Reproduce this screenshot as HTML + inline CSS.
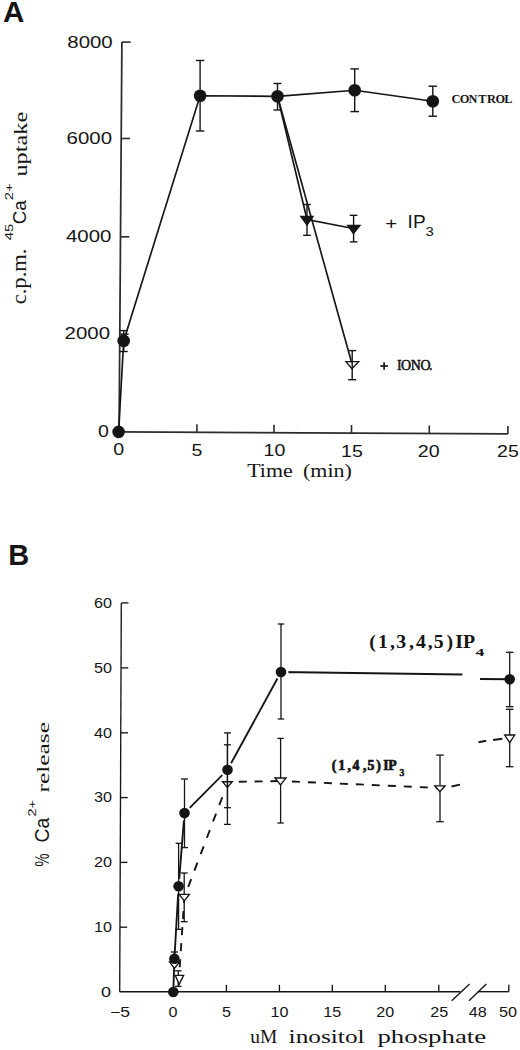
<!DOCTYPE html>
<html><head><meta charset="utf-8"><style>
html,body{margin:0;padding:0;background:#fff;}
svg{display:block;}
</style></head><body>
<svg width="520" height="1050" viewBox="0 0 520 1050">
<rect width="520" height="1050" fill="#fff"/>
<g stroke="#151515" fill="#151515" stroke-linecap="butt">
<text stroke="none" x="3.1" y="21.5" font-family="&quot;Liberation Sans&quot;, sans-serif" font-size="29.6" font-weight="bold" text-anchor="start" >A</text>
<line x1="121.90" y1="42.10" x2="119.10" y2="431.80" stroke-width="1.75" stroke="#2c2c2c"/>
<line x1="121.90" y1="42.10" x2="130.70" y2="42.10" stroke-width="1.6" stroke="#2c2c2c"/>
<line x1="121.21" y1="138.50" x2="130.01" y2="138.50" stroke-width="1.6" stroke="#2c2c2c"/>
<line x1="120.50" y1="236.80" x2="129.30" y2="236.80" stroke-width="1.6" stroke="#2c2c2c"/>
<line x1="119.80" y1="334.20" x2="128.60" y2="334.20" stroke-width="1.6" stroke="#2c2c2c"/>
<line x1="119.10" y1="431.80" x2="507.90" y2="433.90" stroke-width="1.75" stroke="#2c2c2c"/>
<line x1="196.90" y1="432.22" x2="196.90" y2="424.22" stroke-width="1.6" stroke="#2c2c2c"/>
<line x1="274.00" y1="432.64" x2="274.00" y2="424.64" stroke-width="1.6" stroke="#2c2c2c"/>
<line x1="351.50" y1="433.06" x2="351.50" y2="425.06" stroke-width="1.6" stroke="#2c2c2c"/>
<line x1="429.30" y1="433.48" x2="429.30" y2="425.48" stroke-width="1.6" stroke="#2c2c2c"/>
<line x1="507.90" y1="433.90" x2="507.90" y2="425.90" stroke-width="1.6" stroke="#2c2c2c"/>
<text stroke="none" x="112.7" y="47.8" font-family="&quot;Liberation Sans&quot;, sans-serif" font-size="17" font-weight="normal" text-anchor="end" textLength="45.4" lengthAdjust="spacingAndGlyphs" >8000</text>
<text stroke="none" x="112.0" y="143.75" font-family="&quot;Liberation Sans&quot;, sans-serif" font-size="17" font-weight="normal" text-anchor="end" textLength="45.4" lengthAdjust="spacingAndGlyphs" >6000</text>
<text stroke="none" x="111.4" y="242.05" font-family="&quot;Liberation Sans&quot;, sans-serif" font-size="17" font-weight="normal" text-anchor="end" textLength="45.4" lengthAdjust="spacingAndGlyphs" >4000</text>
<text stroke="none" x="110.0" y="338.75" font-family="&quot;Liberation Sans&quot;, sans-serif" font-size="17" font-weight="normal" text-anchor="end" textLength="45.4" lengthAdjust="spacingAndGlyphs" >2000</text>
<text stroke="none" x="109.0" y="436.95" font-family="&quot;Liberation Sans&quot;, sans-serif" font-size="17" font-weight="normal" text-anchor="end" textLength="10.9" lengthAdjust="spacingAndGlyphs" >0</text>
<text stroke="none" x="118.7" y="455.4" font-family="&quot;Liberation Sans&quot;, sans-serif" font-size="17" font-weight="normal" text-anchor="middle" textLength="10.9" lengthAdjust="spacingAndGlyphs" >0</text>
<text stroke="none" x="197.0" y="455.80257069408736" font-family="&quot;Liberation Sans&quot;, sans-serif" font-size="17" font-weight="normal" text-anchor="middle" textLength="10.9" lengthAdjust="spacingAndGlyphs" >5</text>
<text stroke="none" x="274.5" y="456.2010282776349" font-family="&quot;Liberation Sans&quot;, sans-serif" font-size="17" font-weight="normal" text-anchor="middle" textLength="21.8" lengthAdjust="spacingAndGlyphs" >10</text>
<text stroke="none" x="352.0" y="456.5994858611825" font-family="&quot;Liberation Sans&quot;, sans-serif" font-size="17" font-weight="normal" text-anchor="middle" textLength="21.8" lengthAdjust="spacingAndGlyphs" >15</text>
<text stroke="none" x="428.7" y="456.9938303341902" font-family="&quot;Liberation Sans&quot;, sans-serif" font-size="17" font-weight="normal" text-anchor="middle" textLength="21.8" lengthAdjust="spacingAndGlyphs" >20</text>
<text stroke="none" x="508.0" y="457.4015424164524" font-family="&quot;Liberation Sans&quot;, sans-serif" font-size="17" font-weight="normal" text-anchor="middle" textLength="21.8" lengthAdjust="spacingAndGlyphs" >25</text>
<text stroke="none" x="247.2" y="477.4" font-family="&quot;Liberation Serif&quot;, sans-serif" font-size="18" font-weight="normal" text-anchor="start" textLength="45.5" lengthAdjust="spacingAndGlyphs" >Time</text>
<text stroke="none" x="303.0" y="477.4" font-family="&quot;Liberation Serif&quot;, sans-serif" font-size="18" font-weight="normal" text-anchor="start" textLength="48.8" lengthAdjust="spacingAndGlyphs" >(min)</text>
<text stroke="none" transform="translate(26.0,304.3) scale(1.0,1) rotate(-90)" x="0" y="0" font-family="&quot;Liberation Serif&quot;, sans-serif" font-size="20" font-weight="normal" textLength="55.8" lengthAdjust="spacingAndGlyphs">c.p.m.</text>
<text stroke="none" transform="translate(12.8,240.2) scale(1.0,1) rotate(-90)" x="0" y="0" font-family="&quot;Liberation Sans&quot;, sans-serif" font-size="11.5" font-weight="normal" textLength="16.5" lengthAdjust="spacingAndGlyphs">45</text>
<text stroke="none" transform="translate(26.0,224.3) scale(1.0,1) rotate(-90)" x="0" y="0" font-family="&quot;Liberation Sans&quot;, sans-serif" font-size="18.5" font-weight="normal" textLength="24" lengthAdjust="spacingAndGlyphs">Ca</text>
<text stroke="none" transform="translate(12.8,200.2) scale(1.0,1) rotate(-90)" x="0" y="0" font-family="&quot;Liberation Sans&quot;, sans-serif" font-size="11.5" font-weight="normal" textLength="17" lengthAdjust="spacingAndGlyphs">2+</text>
<text stroke="none" transform="translate(26.9,176.6) scale(1.0,1) rotate(-90)" x="0" y="0" font-family="&quot;Liberation Serif&quot;, sans-serif" font-size="19.6" font-weight="normal" textLength="64.8" lengthAdjust="spacingAndGlyphs">uptake</text>
<polyline points="118.60,431.90 123.70,340.90 200.10,95.80 277.50,96.30 354.70,90.30 432.80,101.20" fill="none" stroke-width="1.65" />
<polyline points="277.50,96.30 307.00,219.50 353.40,228.50" fill="none" stroke-width="1.65" />
<line x1="277.50" y1="96.30" x2="351.60" y2="362.50" stroke-width="1.65" />
<line x1="123.70" y1="330.60" x2="123.70" y2="351.50" stroke-width="1.4" />
<line x1="119.70" y1="330.60" x2="127.70" y2="330.60" stroke-width="1.4" />
<line x1="119.70" y1="351.50" x2="127.70" y2="351.50" stroke-width="1.4" />
<line x1="200.10" y1="60.50" x2="200.10" y2="131.00" stroke-width="1.4" />
<line x1="195.80" y1="60.50" x2="204.40" y2="60.50" stroke-width="1.4" />
<line x1="195.80" y1="131.00" x2="204.40" y2="131.00" stroke-width="1.4" />
<line x1="277.50" y1="83.50" x2="277.50" y2="110.00" stroke-width="1.4" />
<line x1="273.50" y1="83.50" x2="281.50" y2="83.50" stroke-width="1.4" />
<line x1="273.50" y1="110.00" x2="281.50" y2="110.00" stroke-width="1.4" />
<line x1="354.70" y1="68.90" x2="354.70" y2="111.60" stroke-width="1.4" />
<line x1="350.40" y1="68.90" x2="359.00" y2="68.90" stroke-width="1.4" />
<line x1="350.40" y1="111.60" x2="359.00" y2="111.60" stroke-width="1.4" />
<line x1="432.80" y1="86.20" x2="432.80" y2="116.20" stroke-width="1.4" />
<line x1="428.50" y1="86.20" x2="437.10" y2="86.20" stroke-width="1.4" />
<line x1="428.50" y1="116.20" x2="437.10" y2="116.20" stroke-width="1.4" />
<line x1="307.00" y1="204.50" x2="307.00" y2="235.30" stroke-width="1.4" />
<line x1="303.15" y1="204.50" x2="310.85" y2="204.50" stroke-width="1.4" />
<line x1="303.15" y1="235.30" x2="310.85" y2="235.30" stroke-width="1.4" />
<line x1="353.60" y1="215.30" x2="353.60" y2="241.90" stroke-width="1.4" />
<line x1="349.75" y1="215.30" x2="357.45" y2="215.30" stroke-width="1.4" />
<line x1="349.75" y1="241.90" x2="357.45" y2="241.90" stroke-width="1.4" />
<line x1="352.20" y1="350.60" x2="352.20" y2="379.70" stroke-width="1.4" />
<line x1="348.20" y1="350.60" x2="356.20" y2="350.60" stroke-width="1.4" />
<line x1="348.20" y1="379.70" x2="356.20" y2="379.70" stroke-width="1.4" />
<circle cx="118.60" cy="431.90" r="6.3" fill="#151515" stroke="none"/>
<circle cx="123.70" cy="340.90" r="6.3" fill="#151515" stroke="none"/>
<circle cx="200.10" cy="95.80" r="6.3" fill="#151515" stroke="none"/>
<circle cx="277.50" cy="96.30" r="6.3" fill="#151515" stroke="none"/>
<circle cx="354.70" cy="90.30" r="6.3" fill="#151515" stroke="none"/>
<circle cx="432.80" cy="101.20" r="6.3" fill="#151515" stroke="none"/>
<polygon points="300.80,216.50 313.00,216.50 307.00,225.00" fill="#151515" stroke-width="1.35" stroke-linejoin="miter"/>
<polygon points="347.70,225.30 360.00,225.30 353.40,233.50" fill="#151515" stroke-width="1.35" stroke-linejoin="miter"/>
<polygon points="345.90,361.60 358.70,361.60 351.90,368.80" fill="none" stroke-width="1.35" stroke-linejoin="miter"/>
<text transform="scale(0.93,1)" x="485.59 494.30 503.83 514.20 523.64 532.79 542.25" y="102.6" font-family="&quot;Liberation Serif&quot;, sans-serif" font-size="13.3" font-weight="bold" stroke="none">CONTROL</text>
<text stroke="none" x="385.3" y="229.2" font-family="&quot;Liberation Sans&quot;, sans-serif" font-size="17" font-weight="normal" text-anchor="start" textLength="12.0" lengthAdjust="spacingAndGlyphs" >+</text>
<text stroke="none" x="407.6" y="228.3" font-family="&quot;Liberation Sans&quot;, sans-serif" font-size="17.5" font-weight="normal" text-anchor="start" textLength="18.0" lengthAdjust="spacingAndGlyphs" >IP</text>
<text stroke="none" x="425.6" y="236.4" font-family="&quot;Liberation Sans&quot;, sans-serif" font-size="12.5" font-weight="normal" text-anchor="start" textLength="8.3" lengthAdjust="spacingAndGlyphs" >3</text>
<line x1="380.30" y1="366.00" x2="387.90" y2="366.00" stroke-width="1.7" />
<line x1="384.10" y1="362.20" x2="384.10" y2="369.80" stroke-width="1.7" />
<text transform="scale(0.93,1)" x="426.98 431.32 441.72 452.18 461.38" y="370.4" font-family="&quot;Liberation Serif&quot;, sans-serif" font-size="15.0" font-weight="normal" stroke="#151515" stroke-width="0.55">IONO.</text>
<text stroke="none" x="8.2" y="564.6" font-family="&quot;Liberation Sans&quot;, sans-serif" font-size="29" font-weight="bold" text-anchor="start" >B</text>
<line x1="121.30" y1="602.90" x2="119.70" y2="991.70" stroke-width="1.35" />
<line x1="121.30" y1="602.90" x2="128.50" y2="602.90" stroke-width="1.35" />
<line x1="121.03" y1="667.90" x2="128.23" y2="667.90" stroke-width="1.35" />
<line x1="120.77" y1="732.80" x2="127.97" y2="732.80" stroke-width="1.35" />
<line x1="120.50" y1="797.60" x2="127.70" y2="797.60" stroke-width="1.35" />
<line x1="120.23" y1="862.40" x2="127.43" y2="862.40" stroke-width="1.35" />
<line x1="119.97" y1="927.20" x2="127.17" y2="927.20" stroke-width="1.35" />
<line x1="119.70" y1="991.70" x2="460.40" y2="991.70" stroke-width="1.35" />
<line x1="477.70" y1="991.70" x2="508.80" y2="991.70" stroke-width="1.35" />
<line x1="226.40" y1="991.70" x2="226.40" y2="984.80" stroke-width="1.35" />
<line x1="279.40" y1="991.70" x2="279.40" y2="984.80" stroke-width="1.35" />
<line x1="332.30" y1="991.70" x2="332.30" y2="984.80" stroke-width="1.35" />
<line x1="385.30" y1="991.70" x2="385.30" y2="984.80" stroke-width="1.35" />
<line x1="438.80" y1="991.70" x2="438.80" y2="984.80" stroke-width="1.35" />
<line x1="508.80" y1="991.70" x2="508.80" y2="984.80" stroke-width="1.35" />
<line x1="451.70" y1="1000.80" x2="469.60" y2="984.00" stroke-width="1.35" />
<line x1="469.00" y1="1000.80" x2="486.30" y2="984.00" stroke-width="1.35" />
<text stroke="none" x="111.9" y="607.5" font-family="&quot;Liberation Sans&quot;, sans-serif" font-size="14" font-weight="normal" text-anchor="end" textLength="18.0" lengthAdjust="spacingAndGlyphs" >60</text>
<text stroke="none" x="111.9" y="672.6" font-family="&quot;Liberation Sans&quot;, sans-serif" font-size="14" font-weight="normal" text-anchor="end" textLength="18.0" lengthAdjust="spacingAndGlyphs" >50</text>
<text stroke="none" x="111.9" y="737.5" font-family="&quot;Liberation Sans&quot;, sans-serif" font-size="14" font-weight="normal" text-anchor="end" textLength="18.0" lengthAdjust="spacingAndGlyphs" >40</text>
<text stroke="none" x="111.9" y="802.3" font-family="&quot;Liberation Sans&quot;, sans-serif" font-size="14" font-weight="normal" text-anchor="end" textLength="18.0" lengthAdjust="spacingAndGlyphs" >30</text>
<text stroke="none" x="111.9" y="867.1" font-family="&quot;Liberation Sans&quot;, sans-serif" font-size="14" font-weight="normal" text-anchor="end" textLength="18.0" lengthAdjust="spacingAndGlyphs" >20</text>
<text stroke="none" x="111.9" y="931.9" font-family="&quot;Liberation Sans&quot;, sans-serif" font-size="14" font-weight="normal" text-anchor="end" textLength="18.0" lengthAdjust="spacingAndGlyphs" >10</text>
<text stroke="none" x="111.0" y="997.0" font-family="&quot;Liberation Sans&quot;, sans-serif" font-size="14.2" font-weight="normal" text-anchor="end" textLength="10.0" lengthAdjust="spacingAndGlyphs" >0</text>
<text stroke="none" x="120.0" y="1017.0" font-family="&quot;Liberation Sans&quot;, sans-serif" font-size="14" font-weight="normal" text-anchor="middle" textLength="20.0" lengthAdjust="spacingAndGlyphs" >−5</text>
<text stroke="none" x="173.0" y="1017.0" font-family="&quot;Liberation Sans&quot;, sans-serif" font-size="14" font-weight="normal" text-anchor="middle" textLength="9.0" lengthAdjust="spacingAndGlyphs" >0</text>
<text stroke="none" x="226.4" y="1017.0" font-family="&quot;Liberation Sans&quot;, sans-serif" font-size="14" font-weight="normal" text-anchor="middle" textLength="9.0" lengthAdjust="spacingAndGlyphs" >5</text>
<text stroke="none" x="279.4" y="1017.0" font-family="&quot;Liberation Sans&quot;, sans-serif" font-size="14" font-weight="normal" text-anchor="middle" textLength="18.0" lengthAdjust="spacingAndGlyphs" >10</text>
<text stroke="none" x="332.3" y="1017.0" font-family="&quot;Liberation Sans&quot;, sans-serif" font-size="14" font-weight="normal" text-anchor="middle" textLength="18.0" lengthAdjust="spacingAndGlyphs" >15</text>
<text stroke="none" x="385.3" y="1017.0" font-family="&quot;Liberation Sans&quot;, sans-serif" font-size="14" font-weight="normal" text-anchor="middle" textLength="18.0" lengthAdjust="spacingAndGlyphs" >20</text>
<text stroke="none" x="439.2" y="1017.0" font-family="&quot;Liberation Sans&quot;, sans-serif" font-size="14" font-weight="normal" text-anchor="middle" textLength="18.0" lengthAdjust="spacingAndGlyphs" >25</text>
<text stroke="none" x="477.7" y="1017.0" font-family="&quot;Liberation Sans&quot;, sans-serif" font-size="14" font-weight="normal" text-anchor="middle" textLength="18.0" lengthAdjust="spacingAndGlyphs" >48</text>
<text stroke="none" x="508.0" y="1017.0" font-family="&quot;Liberation Sans&quot;, sans-serif" font-size="14" font-weight="normal" text-anchor="middle" textLength="18.0" lengthAdjust="spacingAndGlyphs" >50</text>
<text stroke="none" x="250.3" y="1042.8" font-family="&quot;Liberation Serif&quot;, sans-serif" font-size="19.5" font-weight="normal" text-anchor="start" textLength="27.0" lengthAdjust="spacingAndGlyphs" >uM</text>
<text stroke="none" x="288.6" y="1042.8" font-family="&quot;Liberation Serif&quot;, sans-serif" font-size="19.5" font-weight="normal" text-anchor="start" textLength="76.0" lengthAdjust="spacingAndGlyphs" >inositol</text>
<text stroke="none" x="377.4" y="1042.8" font-family="&quot;Liberation Serif&quot;, sans-serif" font-size="19.5" font-weight="normal" text-anchor="start" textLength="108.8" lengthAdjust="spacingAndGlyphs" >phosphate</text>
<text stroke="none" transform="translate(49.4,866.5) scale(1.2,1) rotate(-90)" x="0" y="0" font-family="&quot;Liberation Sans&quot;, sans-serif" font-size="17" font-weight="normal" textLength="13" lengthAdjust="spacingAndGlyphs">%</text>
<text stroke="none" transform="translate(49.4,842.6) scale(1.17,1) rotate(-90)" x="0" y="0" font-family="&quot;Liberation Sans&quot;, sans-serif" font-size="17" font-weight="normal" textLength="24.8" lengthAdjust="spacingAndGlyphs">Ca</text>
<text stroke="none" transform="translate(35.5,816.5) scale(1.0,1) rotate(-90)" x="0" y="0" font-family="&quot;Liberation Sans&quot;, sans-serif" font-size="11" font-weight="normal" textLength="16.5" lengthAdjust="spacingAndGlyphs">2+</text>
<text stroke="none" transform="translate(49.4,792.5) scale(1.0,1) rotate(-90)" x="0" y="0" font-family="&quot;Liberation Serif&quot;, sans-serif" font-size="17.5" font-weight="normal" textLength="70.5" lengthAdjust="spacingAndGlyphs">release</text>
<polyline points="173.30,992.00 174.40,958.70 178.60,886.30 184.50,813.10 227.50,769.80 281.00,672.00 462.40,674.50" fill="none" stroke-width="1.9" />
<line x1="480.00" y1="679.00" x2="509.70" y2="679.30" stroke-width="1.9" />
<line x1="179.72" y1="967.22" x2="180.25" y2="959.24" stroke-width="1.9" />
<line x1="180.79" y1="951.16" x2="181.32" y2="943.18" stroke-width="1.9" />
<line x1="181.86" y1="935.10" x2="182.39" y2="927.11" stroke-width="1.9" />
<line x1="182.93" y1="919.03" x2="183.46" y2="911.05" stroke-width="1.9" />
<line x1="184.00" y1="902.97" x2="184.40" y2="897.00" stroke-width="1.9" />
<line x1="188.23" y1="886.90" x2="191.21" y2="879.05" stroke-width="1.9" />
<line x1="194.44" y1="870.54" x2="197.43" y2="862.69" stroke-width="1.9" />
<line x1="200.66" y1="854.18" x2="203.64" y2="846.33" stroke-width="1.9" />
<line x1="206.87" y1="837.82" x2="209.85" y2="829.97" stroke-width="1.9" />
<line x1="213.08" y1="821.46" x2="216.06" y2="813.61" stroke-width="1.9" />
<line x1="219.29" y1="805.10" x2="222.27" y2="797.25" stroke-width="1.9" />
<line x1="238.80" y1="781.78" x2="246.80" y2="781.63" stroke-width="1.9" />
<line x1="254.60" y1="781.49" x2="262.59" y2="781.34" stroke-width="1.9" />
<line x1="270.39" y1="781.19" x2="278.39" y2="781.04" stroke-width="1.9" />
<line x1="291.89" y1="781.50" x2="299.88" y2="781.86" stroke-width="1.9" />
<line x1="307.87" y1="782.21" x2="315.87" y2="782.56" stroke-width="1.9" />
<line x1="323.86" y1="782.91" x2="331.85" y2="783.26" stroke-width="1.9" />
<line x1="339.84" y1="783.61" x2="347.83" y2="783.96" stroke-width="1.9" />
<line x1="355.83" y1="784.31" x2="363.82" y2="784.67" stroke-width="1.9" />
<line x1="371.81" y1="785.02" x2="379.80" y2="785.37" stroke-width="1.9" />
<line x1="387.80" y1="785.72" x2="395.79" y2="786.07" stroke-width="1.9" />
<line x1="403.78" y1="786.42" x2="411.77" y2="786.77" stroke-width="1.9" />
<line x1="419.77" y1="787.12" x2="427.76" y2="787.48" stroke-width="1.9" />
<line x1="435.75" y1="787.83" x2="439.70" y2="788.00" stroke-width="1.9" />
<line x1="451.50" y1="786.50" x2="460.00" y2="784.60" stroke-width="1.9" />
<line x1="478.50" y1="742.30" x2="486.20" y2="740.80" stroke-width="1.9" />
<line x1="493.10" y1="740.00" x2="502.30" y2="738.80" stroke-width="1.9" />
<circle cx="178.6" cy="886.3" r="7.5" fill="#fff" stroke="none"/>
<circle cx="184.5" cy="813.1" r="7.5" fill="#fff" stroke="none"/>
<circle cx="227.5" cy="769.8" r="7.5" fill="#fff" stroke="none"/>
<circle cx="281.0" cy="672.0" r="7.5" fill="#fff" stroke="none"/>
<line x1="174.40" y1="952.00" x2="174.40" y2="962.00" stroke-width="1.3" />
<line x1="170.80" y1="952.00" x2="178.00" y2="952.00" stroke-width="1.3" />
<line x1="170.80" y1="962.00" x2="178.00" y2="962.00" stroke-width="1.3" />
<line x1="178.60" y1="843.30" x2="178.60" y2="929.30" stroke-width="1.3" />
<line x1="175.60" y1="843.30" x2="181.60" y2="843.30" stroke-width="1.3" />
<line x1="175.60" y1="929.30" x2="181.60" y2="929.30" stroke-width="1.3" />
<line x1="184.50" y1="779.00" x2="184.50" y2="847.60" stroke-width="1.3" />
<line x1="181.00" y1="779.00" x2="188.00" y2="779.00" stroke-width="1.3" />
<line x1="181.00" y1="847.60" x2="188.00" y2="847.60" stroke-width="1.3" />
<line x1="227.50" y1="732.90" x2="227.50" y2="807.70" stroke-width="1.3" />
<line x1="224.00" y1="732.90" x2="231.00" y2="732.90" stroke-width="1.3" />
<line x1="224.00" y1="807.70" x2="231.00" y2="807.70" stroke-width="1.3" />
<line x1="281.00" y1="624.00" x2="281.00" y2="719.00" stroke-width="1.3" />
<line x1="277.80" y1="624.00" x2="284.20" y2="624.00" stroke-width="1.3" />
<line x1="277.80" y1="719.00" x2="284.20" y2="719.00" stroke-width="1.3" />
<line x1="509.70" y1="652.30" x2="509.70" y2="706.70" stroke-width="1.3" />
<line x1="505.90" y1="652.30" x2="513.50" y2="652.30" stroke-width="1.3" />
<line x1="505.90" y1="706.70" x2="513.50" y2="706.70" stroke-width="1.3" />
<line x1="178.30" y1="970.80" x2="178.30" y2="986.40" stroke-width="1.3" />
<line x1="175.05" y1="970.80" x2="181.55" y2="970.80" stroke-width="1.3" />
<line x1="175.05" y1="986.40" x2="181.55" y2="986.40" stroke-width="1.3" />
<line x1="184.20" y1="873.00" x2="184.20" y2="921.70" stroke-width="1.3" />
<line x1="180.70" y1="873.00" x2="187.70" y2="873.00" stroke-width="1.3" />
<line x1="180.70" y1="921.70" x2="187.70" y2="921.70" stroke-width="1.3" />
<line x1="227.40" y1="744.80" x2="227.40" y2="824.40" stroke-width="1.3" />
<line x1="223.90" y1="744.80" x2="230.90" y2="744.80" stroke-width="1.3" />
<line x1="223.90" y1="824.40" x2="230.90" y2="824.40" stroke-width="1.3" />
<line x1="280.60" y1="738.40" x2="280.60" y2="823.00" stroke-width="1.3" />
<line x1="277.40" y1="738.40" x2="283.80" y2="738.40" stroke-width="1.3" />
<line x1="277.40" y1="823.00" x2="283.80" y2="823.00" stroke-width="1.3" />
<line x1="440.00" y1="755.10" x2="440.00" y2="821.70" stroke-width="1.3" />
<line x1="436.30" y1="755.10" x2="443.70" y2="755.10" stroke-width="1.3" />
<line x1="436.30" y1="821.70" x2="443.70" y2="821.70" stroke-width="1.3" />
<line x1="509.70" y1="709.30" x2="509.70" y2="766.70" stroke-width="1.3" />
<line x1="505.90" y1="709.30" x2="513.50" y2="709.30" stroke-width="1.3" />
<line x1="505.90" y1="766.70" x2="513.50" y2="766.70" stroke-width="1.3" />
<polygon points="169.50,962.00 179.50,962.00 174.50,968.50" fill="#fff" stroke-width="1.35" stroke-linejoin="miter"/>
<polygon points="175.30,975.40 183.60,975.40 179.20,984.30" fill="#fff" stroke-width="1.35" stroke-linejoin="miter"/>
<polygon points="179.20,894.40 189.40,894.40 184.30,901.00" fill="#fff" stroke-width="1.35" stroke-linejoin="miter"/>
<polygon points="222.50,781.70 232.30,781.70 227.40,787.50" fill="none" stroke-width="1.35" stroke-linejoin="miter"/>
<polygon points="275.00,778.00 286.00,778.00 280.50,785.00" fill="#fff" stroke-width="1.35" stroke-linejoin="miter"/>
<polygon points="434.70,785.80 445.10,785.80 439.90,791.80" fill="#fff" stroke-width="1.35" stroke-linejoin="miter"/>
<polygon points="504.70,735.00 514.70,735.00 509.70,742.70" fill="#fff" stroke-width="1.35" stroke-linejoin="miter"/>
<circle cx="173.30" cy="992.00" r="5.3" fill="#151515" stroke="none"/>
<circle cx="174.40" cy="958.70" r="5.3" fill="#151515" stroke="none"/>
<circle cx="178.60" cy="886.30" r="5.3" fill="#151515" stroke="none"/>
<circle cx="184.50" cy="813.10" r="5.3" fill="#151515" stroke="none"/>
<circle cx="227.50" cy="769.80" r="5.3" fill="#151515" stroke="none"/>
<circle cx="281.00" cy="672.00" r="5.3" fill="#151515" stroke="none"/>
<circle cx="509.70" cy="679.30" r="5.3" fill="#151515" stroke="none"/>
<text transform="scale(1.0,1)" x="369.13 378.01 389.94 396.16 409.04 415.93 427.84 433.71 446.56 455.13 462.96" y="648.4" font-family="&quot;Liberation Serif&quot;, sans-serif" font-size="19.8" font-weight="bold" stroke="none">(1,3,4,5)IP</text>
<text stroke="none" x="475.6" y="656.3" font-family="&quot;Liberation Serif&quot;, sans-serif" font-size="11" font-weight="bold" text-anchor="start" textLength="8.8" lengthAdjust="spacingAndGlyphs" >4</text>
<text transform="scale(1.0,1)" x="331.79 338.29 347.62 352.61 362.92 367.45 376.36 383.24 388.16" y="770.0" font-family="&quot;Liberation Serif&quot;, sans-serif" font-size="13.8" font-weight="bold" stroke="#151515" stroke-width="0.7">(1,4,5)IP</text>
<text transform="scale(1.0,1)" x="399.54" y="776.3" font-family="&quot;Liberation Serif&quot;, sans-serif" font-size="9.6" font-weight="bold" stroke="#151515" stroke-width="0.5">3</text>
</g>
</svg>
</body></html>
